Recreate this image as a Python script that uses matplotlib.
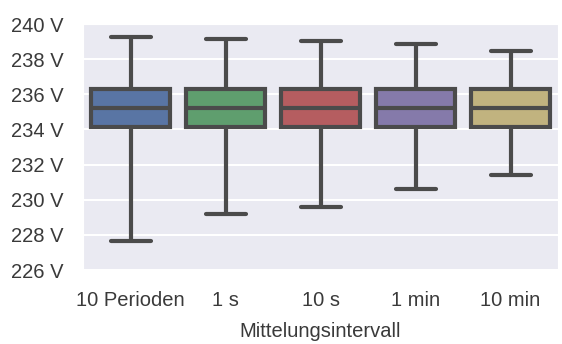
import matplotlib
matplotlib.use("Agg")
import matplotlib.pyplot as plt
import seaborn as sns

sns.set_style("darkgrid")
plt.rcParams['font.family'] = ['Liberation Sans', 'DejaVu Sans']

categories = ['10 Perioden', '1 s', '10 s', '1 min', '10 min']
whislo = [227.65, 229.18, 229.57, 230.63, 231.42]
q1 = [234.15, 234.15, 234.15, 234.15, 234.15]
med = [235.2, 235.2, 235.2, 235.2, 235.2]
q3 = [236.3, 236.3, 236.3, 236.3, 236.3]
whishi = [239.26, 239.15, 239.06, 238.87, 238.48]
colors = ['#4C72B0', '#55A868', '#C44E52', '#8172B2', '#CCB974']
yticks = [226, 228, 230, 232, 234, 236, 238, 240]

stats = [dict(label=c, whislo=a, q1=b, med=m, q3=d, whishi=e)
         for c, a, b, m, d, e in zip(categories, whislo, q1, med, q3, whishi)]

fig = plt.figure(figsize=(5.62, 3.44), dpi=100)
ax = fig.add_axes([0.148, 0.215, 0.845, 0.715])

line = dict(color='#4b4b4b', linewidth=3, solid_capstyle='round')
bp = ax.bxp(stats, positions=range(len(categories)), widths=0.83,
            patch_artist=True, showfliers=False, capwidths=0.42,
            boxprops=dict(edgecolor='#4b4b4b', linewidth=3),
            medianprops=line, whiskerprops=line, capprops=line)
for patch, col in zip(bp['boxes'], colors):
    patch.set_facecolor(sns.desaturate(col, 0.75))

ax.set_xlim(-0.5, len(categories) - 0.5)
ax.set_ylim(226, 239.9)
ax.set_yticks(yticks)
ax.set_yticklabels([f'{t} V' for t in yticks])
ax.set_xticks(range(len(categories)))
ax.set_xticklabels(categories)
ax.tick_params(labelsize=14.5, colors='#3a3a3a', length=0)
ax.tick_params(axis='x', pad=15)
ax.tick_params(axis='y', pad=14)
ax.set_xlabel('Mittelungsintervall', fontsize=14.5, color='#3a3a3a', labelpad=9)
ax.grid(axis='y', linewidth=1.5)
ax.grid(axis='x', visible=False)

fig.savefig('out.png', dpi=100)
